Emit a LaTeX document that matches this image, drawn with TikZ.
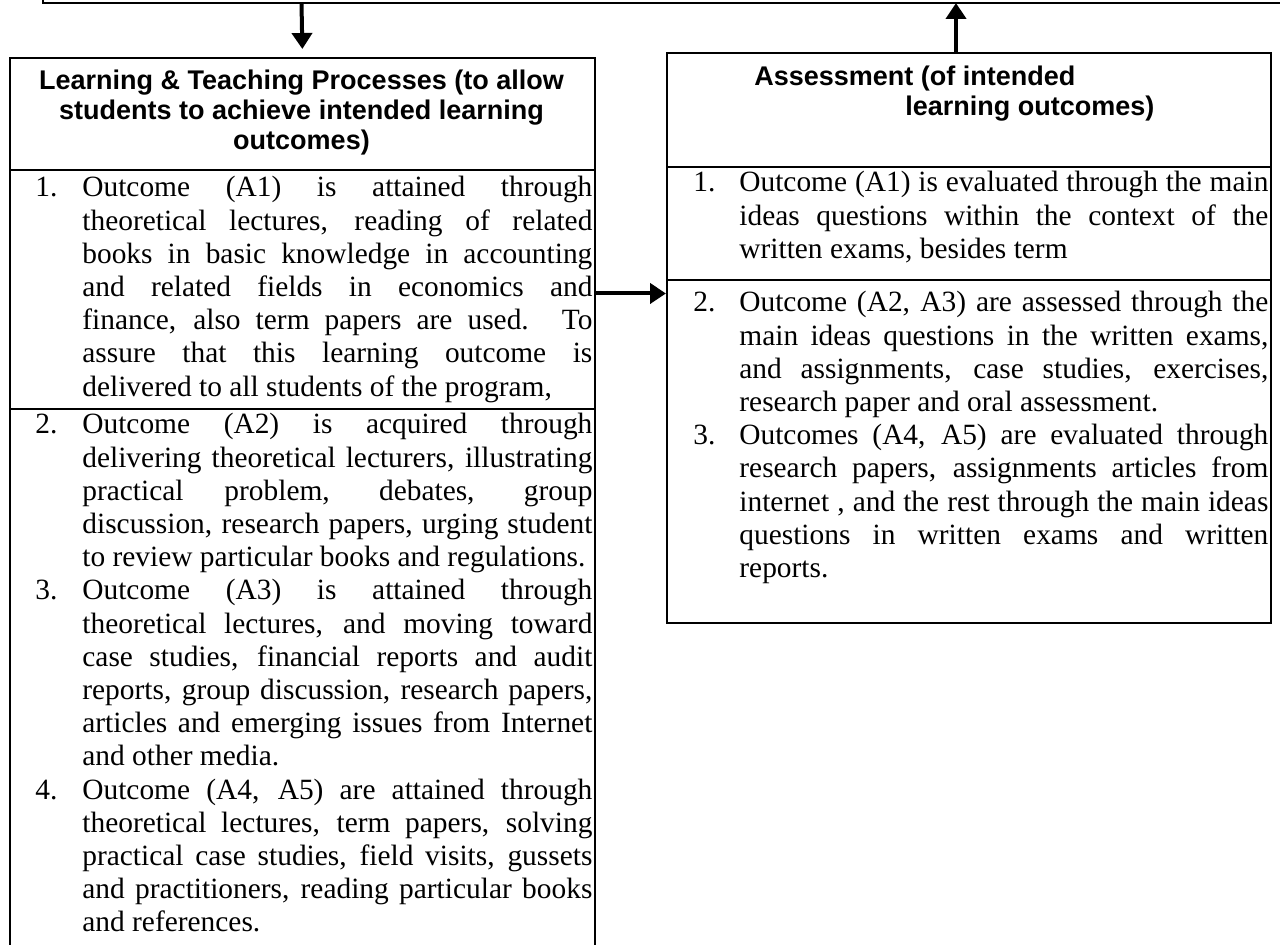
\documentclass[tikz,border=0pt]{standalone}
\usepackage{amsmath}
\usepackage{amssymb}
\usepackage{xcolor}
\usepackage{fontspec}
\setmainfont{Liberation Serif}
\newfontfamily\headfont{Liberation Sans}
\usepackage{tikz}
\usetikzlibrary{arrows.meta}

\tolerance=10000
\hbadness=10000
\hyphenpenalty=10000
\exhyphenpenalty=10000

\newcommand{\numitem}[3]{\hangindent=#1\hangafter=1\noindent\makebox[#1][l]{#2}#3\par}

\begin{document}
\begin{tikzpicture}[
    panel/.style={draw,line width=1pt,anchor=north west,inner sep=0pt},
    flow/.style={line width=2pt,-{Triangle[length=8pt,width=10pt]}},
    head/.style={font={\headfont\bfseries\fontsize{13.5}{15}\selectfont},inner sep=0pt},
    body/.style={font={\fontsize{14.7}{16.6}\selectfont},inner sep=0pt,anchor=base west,align=justify}
]
    \useasboundingbox (0,0) rectangle (640pt,-472.5pt);

    \draw[line width=1pt] (21.5pt,0pt) -- (21.5pt,-1.5pt) -- (650pt,-1.5pt);
    \coordinate (down) at (150.75pt,-1.5pt);
    \coordinate (up) at (478pt,-1.5pt);

    \node[panel,minimum width=292.5pt,minimum height=56pt] (learnhead) at (4.5pt,-28.5pt) {};
    \node[panel,minimum width=292.5pt,minimum height=119.5pt] (learnone) at (4.5pt,-84.5pt) {};
    \node[panel,minimum width=292.5pt,minimum height=290pt] (learnrest) at (4.5pt,-204pt) {};
    \node[panel,minimum width=302pt,minimum height=57pt] (assesshead) at (333pt,-26pt) {};
    \node[panel,minimum width=302pt,minimum height=56.5pt] (assessone) at (333pt,-83pt) {};
    \node[panel,minimum width=302pt,minimum height=171.5pt] (assesstwo) at (333pt,-139.5pt) {};

    \node[head,align=center,anchor=base] (learntitle) at (150.75pt,-75pt) {Learning \& Teaching Processes (to allow\\students to achieve intended learning\\outcomes)};
    \node[head,align=left,anchor=base west] (assesstitle) at (377pt,-58pt) {Assessment (of intended\\\hspace*{75.5pt}learning outcomes)};

    \node[body,text width=278.5pt] (learntxtone) at (17.5pt,-98.5pt) {%
        \numitem{23.5pt}{1.}{Outcome (A1) is attained through\linebreak theoretical lectures, reading of related\linebreak books in basic knowledge in accounting\linebreak and related fields in economics and\linebreak finance, also term papers are used. To\linebreak assure that this learning outcome is\linebreak delivered to all students of the program,}};
    \node[body,text width=278.5pt] (learntxtrest) at (17.5pt,-217pt) {%
        \numitem{23.5pt}{2.}{Outcome (A2) is acquired through\linebreak delivering theoretical lecturers, illustrating\linebreak practical problem, debates, group\linebreak discussion, research papers, urging student\linebreak to review particular books and regulations.}
        \numitem{23.5pt}{3.}{Outcome (A3) is attained through\linebreak theoretical lectures, and moving toward\linebreak case studies, financial reports and audit\linebreak reports, group discussion, research papers,\linebreak articles and emerging issues from Internet\linebreak and other media.}
        \numitem{23.5pt}{4.}{Outcome (A4, A5) are attained through\linebreak theoretical lectures, term papers, solving\linebreak practical case studies, field visits, gussets\linebreak and practitioners, reading particular books\linebreak and references.}};

    \node[body,text width=287.5pt] (assesstxtone) at (346.5pt,-96pt) {%
        \numitem{23pt}{1.}{Outcome (A1) is evaluated through the main\linebreak ideas questions within the context of the\linebreak written exams, besides term}};
    \node[body,text width=287.5pt] (assesstxttwo) at (346.5pt,-156pt) {%
        \numitem{23pt}{2.}{Outcome (A2, A3) are assessed through the\linebreak main ideas questions in the written exams,\linebreak and assignments, case studies, exercises,\linebreak research paper and oral assessment.}
        \numitem{23pt}{3.}{Outcomes (A4, A5) are evaluated through\linebreak research papers, assignments articles from\linebreak internet , and the rest through the main ideas\linebreak questions in written exams and written\linebreak reports.}};

    \draw[flow,shorten >=4pt] (down) -- (learnhead.north);
    \draw[flow] (assesshead.north -| up) -- (up);
    \draw[flow] ([yshift=-2pt]learnone.east) -- ([yshift=-2pt]learnone.east -| assesstwo.west);
\end{tikzpicture}
\end{document}
